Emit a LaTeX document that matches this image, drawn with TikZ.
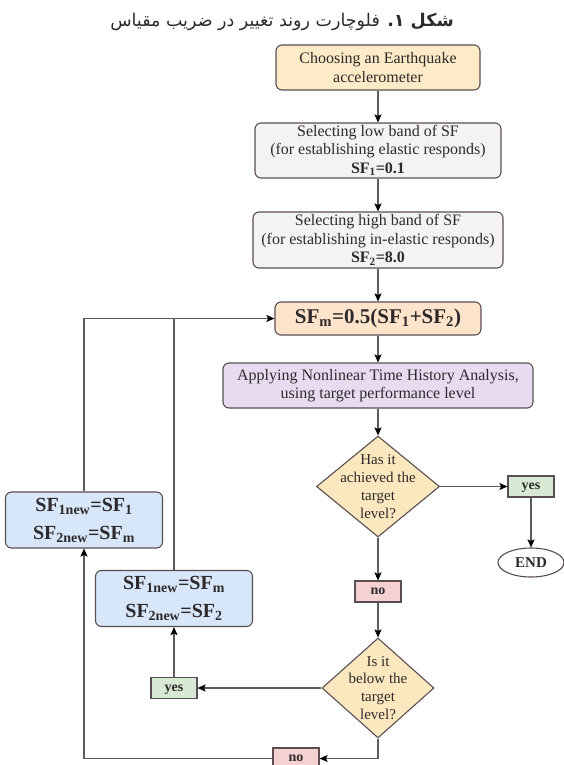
\documentclass[tikz,border=0pt]{standalone}
\usepackage{fontspec}
\setmainfont{Liberation Serif}
\newfontfamily\arabicfont[Script=Arabic]{DejaVu Sans}
\TeXXeTstate=1
\usetikzlibrary{arrows.meta, shapes.geometric, positioning}
\definecolor{fcText}{HTML}{2E2A2C}
\definecolor{fcEdge}{HTML}{5A4E52}
\definecolor{fcLine}{HTML}{5C5C5C}
\definecolor{fcYellow}{HTML}{FCEBC6}
\definecolor{fcGrey}{HTML}{F3F3F3}
\definecolor{fcPeach}{HTML}{FDE4CA}
\definecolor{fcLilac}{HTML}{E7DBEF}
\definecolor{fcDia}{HTML}{FBE8BF}
\definecolor{fcBlue}{HTML}{D7E6F8}
\definecolor{fcGreen}{HTML}{D8EAD4}
\definecolor{fcPink}{HTML}{F6D1D1}
\tikzset{
  box/.style     = {draw=fcEdge, line width=1.1pt, rounded corners=6pt, align=center,
                    text=fcText, inner sep=2pt, font=\fontsize{16}{18.5}\selectfont},
  sfbox/.style   = {box, fill=fcBlue, minimum width=157pt, minimum height=56pt,
                    font=\fontsize{20}{28}\selectfont\bfseries},
  dia/.style     = {diamond, draw=fcEdge, line width=1.1pt, fill=fcDia, inner sep=0pt},
  qtxt/.style    = {align=center, text=fcText, inner sep=0pt, font=\fontsize{15}{17.8}\selectfont},
  tag/.style     = {draw=fcEdge, line width=1.1pt, minimum width=46pt, minimum height=21pt,
                    inner sep=0pt, text height=9pt, text depth=2.5pt, text=fcText,
                    font=\fontsize{14}{16}\selectfont\bfseries},
  flow/.style    = {-{Stealth[length=8pt, width=7pt, inset=1.5pt, color=black]},
                    fcLine, line width=1.3pt},
  link/.style    = {fcLine, line width=1.3pt},
}

\begin{document}
\begin{tikzpicture}[x=1pt,y=-1pt]
  \useasboundingbox (0,0) rectangle (564,765);
  \node[text=fcText, font=\fontsize{17.5}{20}\arabicfont] (title) at (282,22)
    {\beginR\textbf{شکل ۱.} فلوچارت روند تغییر در ضریب مقیاس\endR};
  % main column
  \node[box, fill=fcYellow, minimum width=204pt, minimum height=45pt] (choose) at (378,67.5)
    {Choosing an Earthquake\\accelerometer};
  \node[box, fill=fcGrey, minimum width=246pt, minimum height=55pt] (low) at (378,150.5)
    {Selecting low band of SF\\(for establishing elastic responds)\\\textbf{SF\textsubscript{1}=0.1}};
  \node[box, fill=fcGrey, minimum width=250pt, minimum height=56pt] (high) at (378,240)
    {Selecting high band of SF\\(for establishing in-elastic responds)\\\textbf{SF\textsubscript{2}=8.0}};
  \node[box, fill=fcPeach, minimum width=206pt, minimum height=33pt,
        font=\fontsize{21}{24}\selectfont\bfseries] (sfm) at (378,318.5)
    {SF\textsubscript{m}=0.5(SF\textsubscript{1}+SF\textsubscript{2})};
  \node[box, fill=fcLilac, minimum width=310pt, minimum height=45pt] (nlth) at (378,385.5)
    {Applying Nonlinear Time History Analysis,\\using target performance level};
  \node[dia, minimum width=123pt, minimum height=101pt] (hasit) at (378,486.5) {};
  \node[qtxt] (hasitT) at (hasit) {Has it\\achieved the\\target\\level?};
  \node[tag, fill=fcGreen] (yesA) at (531,486.5) {yes};
  \node[ellipse, draw=fcEdge, line width=1.1pt, fill=white, minimum width=66pt, minimum height=29pt,
        inner sep=0pt, text=fcText, font=\fontsize{15}{17}\selectfont\bfseries] (endN) at (531,562.5) {END};
  \node[tag, fill=fcPink] (noA) at (378,591.5) {no};
  \node[dia, minimum width=112pt, minimum height=100pt] (below) at (378,688) {};
  \node[qtxt] (belowT) at (below) {Is it\\below the\\target\\level?};
  % new bounds
  \node[sfbox] (newB) at (174,598.5)
    {SF\textsubscript{1new}=SF\textsubscript{m}\\SF\textsubscript{2new}=SF\textsubscript{2}};
  \node[sfbox] (newA) at (84,520)
    {SF\textsubscript{1new}=SF\textsubscript{1}\\SF\textsubscript{2new}=SF\textsubscript{m}};
  \node[tag, fill=fcGreen] (yesB) at (174,688) {yes};
  \node[tag, fill=fcPink] (noB) at (296,758.5) {no};
  % connectors
  \draw[flow] (choose) -- (low);
  \draw[flow] (low) -- (high);
  \draw[flow] (high) -- (sfm);
  \draw[flow] (sfm) -- (nlth);
  \draw[flow] (nlth) -- (hasit);
  \draw[flow] (hasit.east) -- (yesA.west);
  \draw[flow] (yesA) -- (endN);
  \draw[flow] (hasit.south) -- (noA.north);
  \draw[flow] (noA.south) -- (below.north);
  \draw[flow] (below.west) -- (yesB.east);
  \draw[flow] (yesB) -- (newB);
  \draw[flow] (below.south) |- (noB.east);
  \draw[flow] (noB.west) -| (newA.south);
  % back to the midpoint
  \draw[flow] (newA.north) |- (sfm.west);
  \draw[link] (newB.north) -- (newB.north |- sfm.west);
\end{tikzpicture}
\end{document}
